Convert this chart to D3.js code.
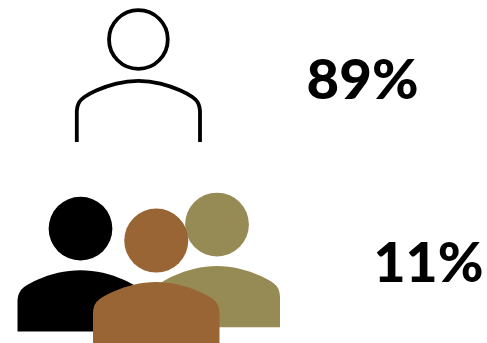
<!DOCTYPE html>
<html>
<head>
<meta charset="utf-8">
<script src="https://cdn.jsdelivr.net/npm/d3@7/dist/d3.min.js"></script>
<style>
  html, body { margin: 0; padding: 0; background: #fff; }
  svg { display: block; }
  text { font-family: Lato, "Noto Sans", sans-serif; font-weight: 900; fill: #000; }
</style>
</head>
<body>
<svg id="chart" width="487" height="343"></svg>
<script>
// Share of respondents in each group
const groups = ["single", "multiple"];
const shares = [89, 11];
const labelX = [362.5, 428.5];
const labelY = [98.5, 281.5];
const labelWidth = [112, 110];

// Figures that make up each pictogram, back to front
const figureGroup = ["single", "multiple", "multiple", "multiple"];
const figureFill = ["none", "#000000", "#968a55", "#9a6535"];
const figureStroke = ["#000000", "none", "none", "none"];
const figureLeft = [76.8, 17.5, 154, 93];
const figureTop = [8, 197, 193, 209];
const figureWidth = [123.2, 126, 126, 126.5];
const figureHeight = [134, 134.5, 134.3, 134.3];

// Shoulder outline, in proportions of the figure's width and of its height
const bodyU = [0, 0.004, 0.018, 0.055, 0.15, 0.32, 0.5, 0.68, 0.85, 0.945, 0.982, 0.996, 1];
const bodyV = [0.77, 0.735, 0.7, 0.665, 0.615, 0.558, 0.537, 0.558, 0.615, 0.665, 0.7, 0.735, 0.77];
const headRadiusShare = 0.253;
const headCentreShare = 0.235;

const svg = d3.select("#chart");

const figures = figureGroup.map((group, i) => ({
  group, fill: figureFill[i], stroke: figureStroke[i],
  x: d3.scaleLinear().range([figureLeft[i], figureLeft[i] + figureWidth[i]]),
  y: d3.scaleLinear().range([figureTop[i], figureTop[i] + figureHeight[i]])
}));

const people = svg.selectAll("g.person")
  .data(figures)
  .join("g")
  .attr("class", d => "person " + d.group)
  .attr("fill", d => d.fill)
  .attr("stroke", d => d.stroke)
  .attr("stroke-width", d => d.stroke === "none" ? 0 : 3.8);

people.append("circle")
  .attr("cx", d => d.x(0.5))
  .attr("cy", d => d.y(headCentreShare))
  .attr("r", d => (d.x(1) - d.x(0)) * headRadiusShare - (d.stroke === "none" ? 0 : 1.8));

// Straight sides joined by a smooth curve over the shoulders
people.append("path")
  .attr("d", d => {
    const shoulders = d3.line()
      .x(i => d.x(bodyU[i]))
      .y(i => d.y(bodyV[i]))
      .curve(d3.curveBasis)(d3.range(bodyU.length));
    return `M${d.x(0)},${d.y(1)}L` + shoulders.slice(1)
      + `L${d.x(1)},${d.y(1)}` + (d.fill === "none" ? "" : "Z");
  });

svg.selectAll("text.share")
  .data(groups)
  .join("text")
  .attr("class", "share")
  .attr("x", (d, i) => labelX[i])
  .attr("y", (d, i) => labelY[i])
  .attr("text-anchor", "middle")
  .attr("font-size", 55)
  .attr("textLength", (d, i) => labelWidth[i])
  .attr("lengthAdjust", "spacingAndGlyphs")
  .text((d, i) => shares[i] + "%");
</script>
</body>
</html>
